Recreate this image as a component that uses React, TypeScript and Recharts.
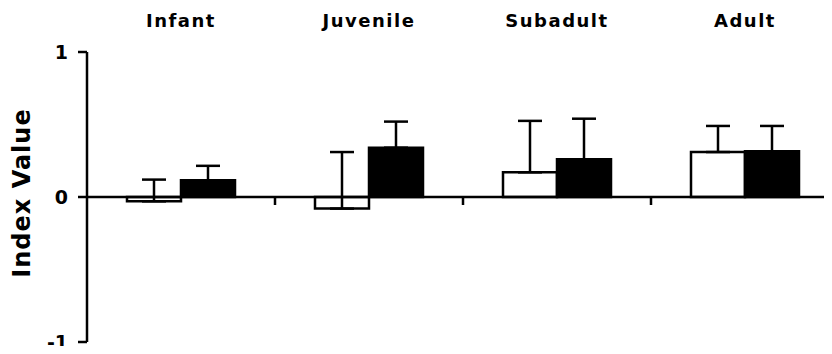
import { BarChart, Bar, XAxis, YAxis, ErrorBar, ReferenceLine, Label } from "recharts"

const categories = ["Infant", "Juvenile", "Subadult", "Adult"]
const openValues = [-0.03, -0.08, 0.17, 0.31]
const filledValues = [0.115, 0.34, 0.26, 0.315]
// one-sided (upper) error amounts
const openErr = [0.15, 0.39, 0.355, 0.18]
const filledErr = [0.1, 0.18, 0.28, 0.175]
const yTicks = [-1, 0, 1]

const data = categories.map((name, i) => ({
  name,
  open: openValues[i],
  filled: filledValues[i],
  openErr: [0, openErr[i]],
  filledErr: [0, filledErr[i]],
}))

const font = "'DejaVu Sans', Verdana, sans-serif"

// zero line with small tick marks at the category boundaries
const ZeroLine = (props: any) => {
  const { x1, x2, y1 } = props
  const n = categories.length
  const step = (x2 - x1) / n
  return (
    <g>
      <line x1={x1} x2={x2} y1={y1} y2={y1} stroke="#000" strokeWidth={2.5} />
      {categories.slice(1).map((c, i) => (
        <line
          key={c}
          x1={x1 + step * (i + 1)}
          x2={x1 + step * (i + 1)}
          y1={y1}
          y2={y1 + 8}
          stroke="#000"
          strokeWidth={2.5}
        />
      ))}
    </g>
  )
}

export default function App() {
  return (
    <div style={{ margin: -8, width: 832, height: 354, overflow: "hidden", background: "#fff" }}>
      <BarChart
        width={840}
        height={354}
        data={data}
        margin={{ top: 0, right: 1, left: 0, bottom: 12 }}
        barCategoryGap={40}
        barGap={0}
      >
        <XAxis
          dataKey="name"
          orientation="top"
          height={52}
          axisLine={false}
          tickLine={false}
          tickSize={0}
          tickMargin={25}
          interval={0}
          tick={{ fill: "#000", fontFamily: font, fontWeight: "bold", fontSize: 18, letterSpacing: 1.5 }}
        />
        <YAxis
          domain={[-1, 1]}
          ticks={yTicks}
          width={87}
          axisLine={{ stroke: "#000", strokeWidth: 2.5 }}
          tickLine={{ stroke: "#000", strokeWidth: 2.5 }}
          tickSize={9}
          tickMargin={10}
          tick={{ fill: "#000", fontFamily: font, fontWeight: "bold", fontSize: 19 }}
        >
          <Label
            content={({ viewBox }: any) => {
              const cx = viewBox.x + 22
              const cy = viewBox.y + viewBox.height / 2 - 4
              return (
                <text
                  x={cx}
                  y={cy}
                  transform={`rotate(-90 ${cx} ${cy})`}
                  textAnchor="middle"
                  dominantBaseline="central"
                  fontFamily={font}
                  fontWeight="bold"
                  fontSize={24}
                  letterSpacing={1}
                  fill="#000"
                >
                  Index Value
                </text>
              )
            }}
          />
        </YAxis>
        <Bar dataKey="open" fill="#fff" stroke="#000" strokeWidth={2.5} isAnimationActive={false}>
          <ErrorBar dataKey="openErr" width={12} stroke="#000" strokeWidth={2.5} direction="y" />
        </Bar>
        <Bar dataKey="filled" fill="#000" stroke="#000" strokeWidth={2.5} isAnimationActive={false}>
          <ErrorBar dataKey="filledErr" width={12} stroke="#000" strokeWidth={2.5} direction="y" />
        </Bar>
        <ReferenceLine y={0} shape={ZeroLine} />
      </BarChart>
    </div>
  )
}
